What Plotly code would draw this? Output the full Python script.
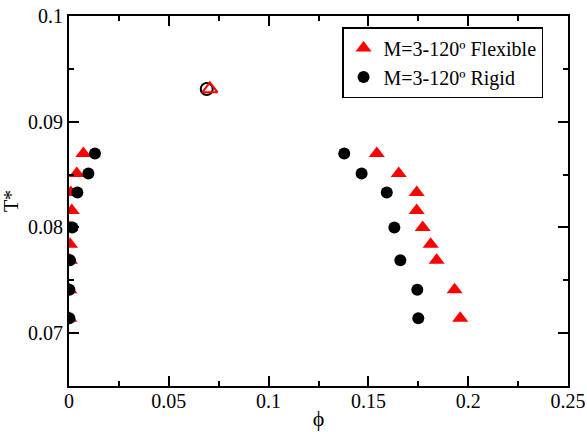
import plotly.graph_objects as go

# Flexible (triangles): coexistence curve, gas and liquid branches
T_flex = [0.0870, 0.0851, 0.0833, 0.0816, 0.0800, 0.0784, 0.0769, 0.0741, 0.0714]
phi_flex_gas = [0.0072, 0.0039, 0.0009, 0.0014, 0.0005, 0.0005, 0.0005, 0.0002, 0.0002]
phi_flex_liq = [0.1542, 0.1652, 0.1742, 0.1742, 0.1772, 0.1812, 0.1842, 0.1932, 0.1960]

# Rigid (circles)
T_rigid = [0.0870, 0.0851, 0.0833, 0.0800, 0.0769, 0.0741, 0.0714]
phi_rigid_gas = [0.0130, 0.0097, 0.0042, 0.0017, 0.0005, 0.0002, 0.0002]
phi_rigid_liq = [0.1379, 0.1466, 0.1592, 0.1630, 0.1660, 0.1745, 0.1750]

# Critical points (open markers)
crit_flex = (0.0706, 0.0931)
crit_rigid = (0.0690, 0.0931)

names = ["M=3-120º Flexible", "M=3-120º Rigid"]
x_ticks = [0, 0.05, 0.1, 0.15, 0.2, 0.25]
y_ticks = [0.07, 0.08, 0.09, 0.1]

FONT = "Liberation Serif, Times New Roman, serif"

fig = go.Figure()
fig.add_trace(go.Scatter(
    x=phi_flex_gas + phi_flex_liq, y=T_flex + T_flex, mode="markers", name=names[0],
    marker=dict(symbol="triangle-up", size=14, color="#ff0000", line=dict(width=0))))
fig.add_trace(go.Scatter(
    x=phi_rigid_gas + phi_rigid_liq, y=T_rigid + T_rigid, mode="markers", name=names[1],
    marker=dict(symbol="circle", size=12, color="#000000", line=dict(width=0))))
fig.add_trace(go.Scatter(
    x=[crit_rigid[0]], y=[crit_rigid[1]], mode="markers", showlegend=False,
    marker=dict(symbol="circle-open", size=12, color="#000000", line=dict(width=2))))
fig.add_trace(go.Scatter(
    x=[crit_flex[0]], y=[crit_flex[1]], mode="markers", showlegend=False,
    marker=dict(symbol="triangle-up-open", size=13, color="#ff0000", line=dict(width=2))))

axis_common = dict(
    showline=True, linecolor="black", linewidth=2, mirror="ticks",
    ticks="inside", ticklen=10, tickwidth=2, tickcolor="black",
    showgrid=False, zeroline=False, automargin=False,
    tickfont=dict(family=FONT, size=20, color="black"),
)

fig.update_xaxes(
    range=[0, 0.25], tickvals=x_ticks, ticktext=["0", "0.05", "0.1", "0.15", "0.2", "0.25"],
    minor=dict(ticks="inside", ticklen=5, tickwidth=2, tickcolor="black", dtick=0.025, tick0=0),
    ticklabelstandoff=-4,
    title=dict(text="ϕ", font=dict(family=FONT, size=22, color="black"), standoff=0),
    **axis_common)
fig.update_yaxes(
    range=[0.065, 0.1], tickvals=y_ticks, ticktext=["0.07", "0.08", "0.09", "0.1"],
    minor=dict(ticks="inside", ticklen=5, tickwidth=2, tickcolor="black", dtick=0.005, tick0=0.065),
    title=dict(text="T*", font=dict(family=FONT, size=20, color="black"), standoff=12),
    **axis_common)

fig.update_layout(
    width=587, height=432,
    margin=dict(l=69, r=19, t=16, b=46),
    paper_bgcolor="white", plot_bgcolor="white",
    font=dict(family=FONT, color="black"),
    legend=dict(
        x=0.95, y=0.97, xanchor="right", yanchor="top",
        bordercolor="black", borderwidth=1.5, bgcolor="white",
        font=dict(family=FONT, size=20, color="black"),
        itemwidth=30, tracegroupgap=0,
    ),
)

fig.write_html("out.html")
